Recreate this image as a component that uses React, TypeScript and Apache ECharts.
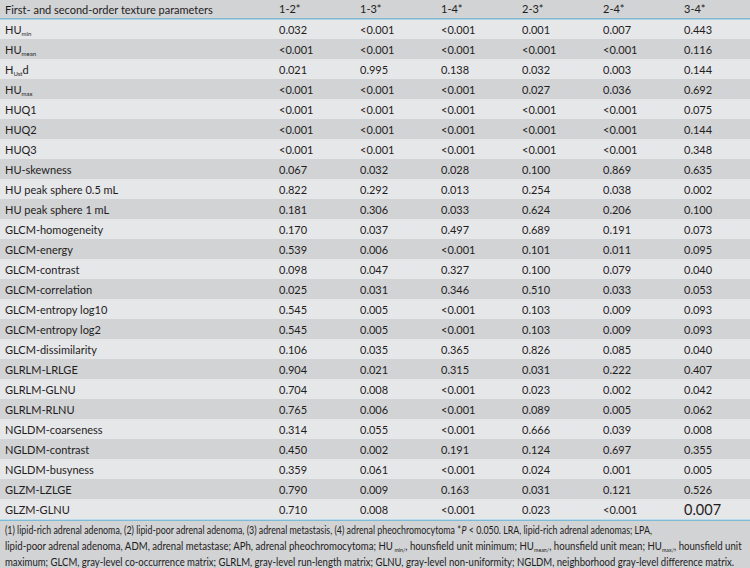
import React, { useEffect, useRef } from "react";
import * as echarts from "echarts";

const headerTitle = "First- and second-order texture parameters";
const pairs = ["1-2*", "1-3*", "1-4*", "2-3*", "2-4*", "3-4*"];
const params = [
  "HU_{min}", "HU_{mean}", "H_{Ust}d", "HU_{max}", "HUQ1", "HUQ2", "HUQ3",
  "HU-skewness", "HU peak sphere 0.5 mL", "HU peak sphere 1 mL",
  "GLCM-homogeneity", "GLCM-energy", "GLCM-contrast", "GLCM-correlation",
  "GLCM-entropy log10", "GLCM-entropy log2", "GLCM-dissimilarity",
  "GLRLM-LRLGE", "GLRLM-GLNU", "GLRLM-RLNU", "NGLDM-coarseness",
  "NGLDM-contrast", "NGLDM-busyness", "GLZM-LZLGE", "GLZM-GLNU",
];
const p12 = ["0.032", "<0.001", "0.021", "<0.001", "<0.001", "<0.001", "<0.001", "0.067", "0.822", "0.181", "0.170", "0.539", "0.098", "0.025", "0.545", "0.545", "0.106", "0.904", "0.704", "0.765", "0.314", "0.450", "0.359", "0.790", "0.710"];
const p13 = ["<0.001", "<0.001", "0.995", "<0.001", "<0.001", "<0.001", "<0.001", "0.032", "0.292", "0.306", "0.037", "0.006", "0.047", "0.031", "0.005", "0.005", "0.035", "0.021", "0.008", "0.006", "0.055", "0.002", "0.061", "0.009", "0.008"];
const p14 = ["<0.001", "<0.001", "0.138", "<0.001", "<0.001", "<0.001", "<0.001", "0.028", "0.013", "0.033", "0.497", "<0.001", "0.327", "0.346", "<0.001", "<0.001", "0.365", "0.315", "<0.001", "<0.001", "<0.001", "0.191", "<0.001", "0.163", "<0.001"];
const p23 = ["0.001", "<0.001", "0.032", "0.027", "<0.001", "<0.001", "<0.001", "0.100", "0.254", "0.624", "0.689", "0.101", "0.100", "0.510", "0.103", "0.103", "0.826", "0.031", "0.023", "0.089", "0.666", "0.124", "0.024", "0.031", "0.023"];
const p24 = ["0.007", "<0.001", "0.003", "0.036", "<0.001", "<0.001", "<0.001", "0.869", "0.038", "0.206", "0.191", "0.011", "0.079", "0.033", "0.009", "0.009", "0.085", "0.222", "0.002", "0.005", "0.039", "0.697", "0.001", "0.121", "<0.001"];
const p34 = ["0.443", "0.116", "0.144", "0.692", "0.075", "0.144", "0.348", "0.635", "0.002", "0.100", "0.073", "0.095", "0.040", "0.053", "0.093", "0.093", "0.040", "0.407", "0.042", "0.062", "0.008", "0.355", "0.005", "0.526", "0.007"];
const columns = [p12, p13, p14, p23, p24, p34];
const largeCells = [[24, 5]];

const footerLines = [
  "{n|(1) lipid-rich adrenal adenoma, (2) lipid-poor adrenal adenoma, (3) adrenal metastasis, (4) adrenal pheochromocytoma *}{i|P}{n| < 0.050. LRA, lipid-rich adrenal adenomas; LPA,}",
  "{n|lipid-poor adrenal adenoma, ADM, adrenal metastase; APh, adrenal pheochromocytoma; HU}{s|min/}{n|, hounsfield unit minimum; HU}{s|mean/}{n|, hounsfield unit mean; HU}{s|max/}{n|, hounsfield unit}",
  "{n|maximum; GLCM, gray-level co-occurrence matrix; GLRLM, gray-level run-length matrix; GLNU, gray-level non-uniformity; NGLDM, neighborhood gray-level difference matrix.}",
];
const footerWidths = [647, 737, 730];

const FONT = "Lato";
const TXT = "#1f1c1d";
const LIGHT = "#e6e7e8";
const DARK = "#d1d3d4";
const BLUE = "#7cbad5";
const FS = 11;
const FOOT_FS = 10.5;

function richLabel(s: string) {
  return "{n|" + s.replace(/_\{([^}]*)\}/g, "}{s|$1}{n|") + "}";
}

const richStyles = (fs: number) => ({
  n: { fontSize: fs, fontFamily: FONT, fill: TXT, color: TXT, lineHeight: 16, verticalAlign: "middle" },
  s: { fontSize: fs * 0.55, fontFamily: FONT, fill: TXT, color: TXT, lineHeight: 16, verticalAlign: "bottom", padding: [0, 0, 1, 0] },
  i: { fontSize: fs, fontFamily: FONT, fontStyle: "italic", fill: TXT, color: TXT, lineHeight: 16, verticalAlign: "middle" },
});

function measure(text: string, rich: any) {
  try {
    const T = (echarts.graphic as any).Text;
    const t = new T({ style: { text, rich } });
    const w = t.getBoundingRect().width;
    return w > 0 ? w : 0;
  } catch (e) {
    return 0;
  }
}

export default function App() {
  const ref = useRef<HTMLDivElement>(null);
  useEffect(() => {
    const chart = echarts.init(ref.current!, null, { renderer: "svg" });
    const renderItem = (_p: any, api: any) => {
      const i = api.value(0);
      const yc = api.coord([0, i])[1];
      const bandH = api.size([0, 1])[1];
      const w = api.getWidth();
      const children: any[] = [
        {
          type: "rect",
          shape: { x: 0, y: yc - bandH / 2, width: w, height: bandH },
          style: { fill: i % 2 ? DARK : LIGHT },
        },
        {
          type: "text",
          x: 5,
          y: yc,
          style: {
            text: richLabel(params[i]),
            rich: richStyles(FS),
            verticalAlign: "middle",
            align: "left",
          },
        },
      ];
      columns.forEach((col, j) => {
        const big = largeCells.some(([r, c]) => r === i && c === j);
        children.push({
          type: "text",
          x: api.coord([j, i])[0],
          y: yc,
          style: {
            text: col[i],
            fill: TXT,
            fontSize: big ? 14.5 : FS,
            fontFamily: FONT,
            verticalAlign: "middle",
            align: "left",
          },
        });
      });
      return { type: "group", children };
    };
    const footRich = richStyles(FOOT_FS);
    chart.setOption({
      animation: false,
      grid: { left: 279, right: 66, top: 19, height: 500 },
      xAxis: {
        type: "value",
        min: 0,
        max: 5,
        interval: 1,
        position: "top",
        axisLine: { show: false },
        axisTick: { show: false },
        splitLine: { show: false },
        axisLabel: {
          formatter: (v: number) => pairs[v] ?? "",
          align: "left",
          margin: 5,
          fontSize: FS,
          fontFamily: FONT,
          color: TXT,
        },
      },
      yAxis: { type: "category", data: params, inverse: true, show: false },
      graphic: [
        { type: "rect", z: -10, shape: { x: 0, y: 0, width: 750, height: 18 }, style: { fill: DARK } },
        { type: "rect", z: -10, shape: { x: 0, y: 520, width: 750, height: 48 }, style: { fill: DARK } },
        { type: "rect", z: 50, shape: { x: 0, y: 18, width: 750, height: 1.5 }, style: { fill: BLUE } },
        { type: "rect", z: 50, shape: { x: 0, y: 519.5, width: 750, height: 1.5 }, style: { fill: BLUE } },
        {
          type: "text", z: 50, x: 5, y: 9,
          style: { text: headerTitle, fill: TXT, fontSize: FS, fontFamily: FONT, verticalAlign: "middle" },
        },
        ...footerLines.map((t, k) => {
          const mw = measure(t, footRich);
          const sx = mw > 0 ? footerWidths[k] / mw : 0.9;
          return {
            type: "text", z: 50, x: 5, y: 530 + 15.8 * k, scaleX: sx,
            style: { text: t, rich: footRich, verticalAlign: "middle", align: "left" },
          };
        }),
      ],
      series: [
        {
          type: "custom",
          data: params.map((_, i) => [i]),
          encode: { y: 0 },
          renderItem,
        },
      ],
    });
    return () => chart.dispose();
  }, []);
  return <div ref={ref} style={{ width: 750, height: 568, position: "absolute", left: 0, top: 0 }} />;
}
